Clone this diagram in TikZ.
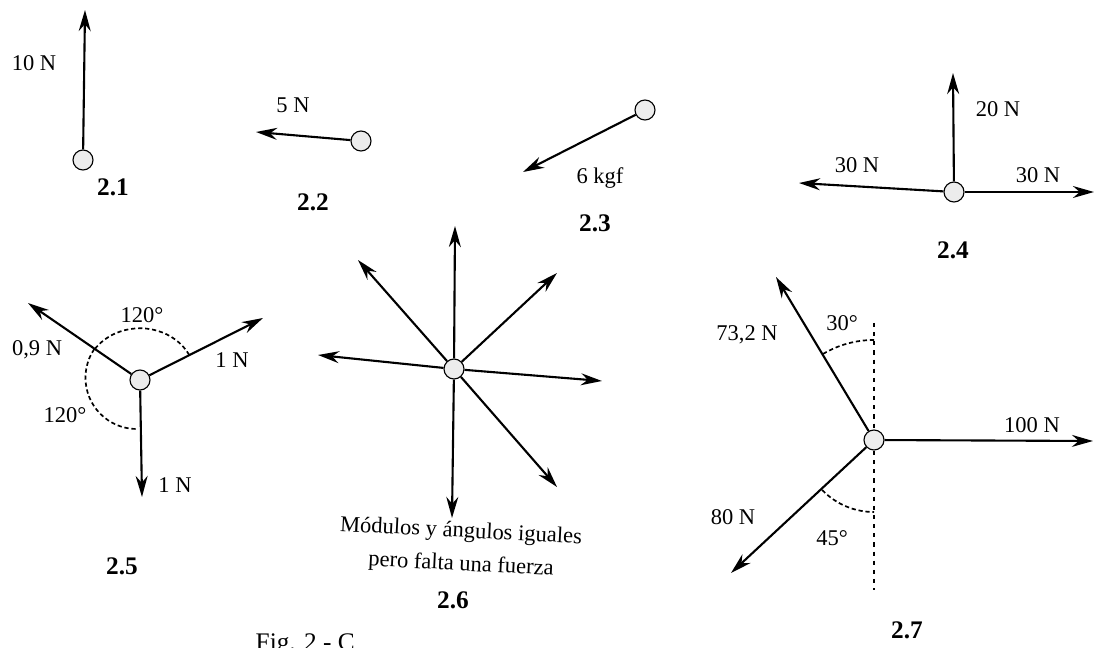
\documentclass[tikz,border=0pt]{standalone}
\usepackage{fontspec}
\setmainfont{Liberation Serif}
\usepackage{tikz}
\usetikzlibrary{arrows.meta,positioning}

\begin{document}
\begin{tikzpicture}[
  x=0.025cm, y=0.025cm,
  ball/.style={circle, draw, thick, fill=gray!15, minimum size=0.5cm, inner sep=0pt},
  force/.style={-{Stealth[length=15pt,width=8.5pt]}, line width=1.5pt},
  lab/.style={font=\fontsize{16}{21}\selectfont, inner sep=1pt},
  num/.style={font=\fontsize{18}{20}\selectfont\bfseries, inner sep=1pt},
  angarc/.style={densely dashed, line width=1.2pt},
  vline/.style={dash pattern=on 3pt off 3.5pt, line width=1.6pt}
]
\useasboundingbox (0,0) rectangle (1096,-648);

% 2.1
\node[ball] (b1) at (83,-160) {};
\coordinate (t1) at (85,-10);
\draw[force] (b1) -- (t1);
\node[lab] (f1) at (34,-63) {10 N};
\node[num] (n1) at (113,-187) {2.1};

% 2.2
\node[ball] (b2) at (361,-141) {};
\coordinate (t2) at (256,-132);
\draw[force] (b2) -- (t2);
\node[lab] (f2) at (293,-105) {5 N};
\node[num] (n2) at (313,-202) {2.2};

% 2.3
\node[ball] (b3) at (645,-110) {};
\coordinate (t3) at (523,-172);
\draw[force] (b3) -- (t3);
\node[lab] (f3) at (600,-178) {6 kgf};
\node[num] (n3) at (595,-223) {2.3};

% 2.4
\node[ball] (b4) at (954,-192) {};
\coordinate (t4u) at (953,-73);
\coordinate (t4l) at (799,-183);
\coordinate (t4r) at (1094,-192);
\draw[force] (b4) -- (t4u);
\draw[force] (b4) -- (t4l);
\draw[force] (b4) -- (t4r);
\node[lab] (f4u) at (998,-109) {20 N};
\node[lab] (f4l) at (857,-165) {30 N};
\node[lab] (f4r) at (1038,-175) {30 N};
\node[num] (n4) at (953,-250) {2.4};

% 2.5
\node[ball] (b5) at (140,-380) {};
\coordinate (t5a) at (28,-303);
\coordinate (t5b) at (263,-318);
\coordinate (t5c) at (142,-497);
\draw[force] (b5) -- (t5a);
\draw[force] (b5) -- (t5b);
\draw[force] (b5) -- (t5c);
\draw[angarc] ([shift={(27:1.38cm)}]b5.center) arc[start angle=27, end angle=146, x radius=1.38cm, y radius=1.22cm];
\draw[angarc] ([shift={(146:1.38cm)}]b5.center) arc[start angle=146, end angle=270, radius=1.28cm];
\node[lab] (f5a) at (37,-350) {0,9 N};
\node[lab] (f5b) at (232,-360) {1 N};
\node[lab] (f5c) at (175,-485) {1 N};
\node[lab] (g5a) at (142,-315) {120°};
\node[lab] (g5b) at (65,-415) {120°};
\node[num] (n5) at (122,-566) {2.5};

% 2.6
\node[ball] (b6) at (454,-369) {};
\foreach \tx/\ty [count=\i] in {455/226, 358/260, 557/273, 318/355, 602/381, 557/487, 452/518}
  \coordinate (t6\i) at (\tx,-\ty);
\foreach \i in {1,...,7}
  \draw[force] (b6) -- (t6\i);
\node[lab, rotate=-3] (c6a) at (461,-532) {Módulos y ángulos iguales};
\node[lab, rotate=-3] (c6b) at (461,-565) {pero falta una fuerza};
\node[num] (n6) at (453,-600) {2.6};

% 2.7
\coordinate (v1) at (874,-323);
\coordinate (v2) at (874,-590);
\draw[vline] (v1) -- (v2);
\node[ball] (b7) at (874,-440) {};
\coordinate (t7a) at (776,-277);
\coordinate (t7b) at (1093,-441);
\coordinate (t7c) at (731,-573);
\draw[force] (b7) -- (t7a);
\draw[force] (b7) -- (t7b);
\draw[force] (b7) -- (t7c);
\draw[angarc] ([shift={(90:2.5cm)}]b7.center) arc[start angle=90, end angle=121, radius=2.5cm];
\draw[angarc] ([shift={(224:1.8cm)}]b7.center) arc[start angle=224, end angle=270, radius=1.8cm];
\node[lab] (f7a) at (747,-335) {73,2 N};
\node[lab] (f7b) at (1032,-425) {100 N};
\node[lab] (f7c) at (733,-517) {80 N};
\node[lab] (g7a) at (842,-323) {30°};
\node[lab] (g7c) at (832,-538) {45°};
\node[num] (n7) at (907,-630) {2.7};

% caption, cut at the lower edge
\node[lab, font=\fontsize{18}{20}\selectfont, anchor=north west] (fig) at (254,-632) {Fig. 2 - C};
\end{tikzpicture}
\end{document}
